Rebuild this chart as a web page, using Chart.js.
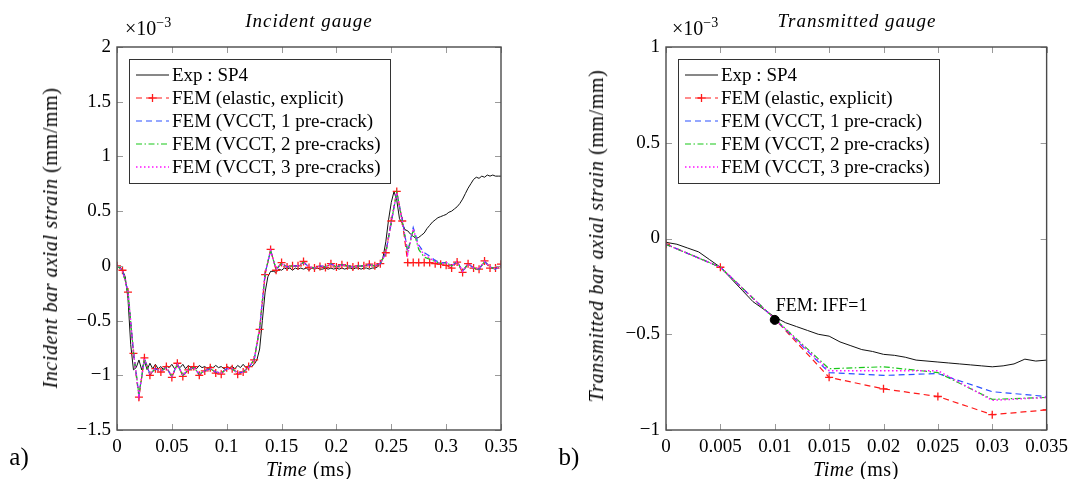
<!DOCTYPE html>
<html>
<head>
<meta charset="utf-8">
<script src="https://cdn.jsdelivr.net/npm/chart.js@4.4.1/dist/chart.umd.min.js"></script>
<style>
body { margin: 0; background: #fff; }
#wrap { position: relative; width: 1074px; height: 479px; font-family: 'Liberation Serif', serif; color: #000; }
canvas { position: absolute; top: 0; }
.lbl { position: absolute; white-space: nowrap; transform: translate(-50%, -50%); font-size: 19px; line-height: 1; }
.axl { font-size: 20px; letter-spacing: 0.6px; }
.rot { transform: translate(-50%, -50%) rotate(-90deg); }
.exp { position: absolute; white-space: nowrap; font-size: 20px; line-height: 1; }
.exp sup { font-size: 14px; vertical-align: 8px; line-height: 0; }
.ttl { letter-spacing: 1px; font-style: italic; }
</style>
</head>
<body>
<div id="wrap">
  <canvas id="incident" width="537" height="479" style="left:0"></canvas>
  <canvas id="transmitted" width="537" height="479" style="left:537px"></canvas>

  <div class="lbl ttl" style="left:309px;top:20px">Incident gauge</div>
  <div class="exp" style="left:125px;top:18px">×10<sup>−3</sup></div>
  <div class="lbl axl rot" style="left:50px;top:238px"><i>Incident bar axial strain</i> (mm/mm)</div>
  <div class="lbl axl" style="left:309px;top:469px"><i>Time</i> (ms)</div>
  <div class="lbl" style="left:19px;top:456px;font-size:25px">a)</div>

  <div class="lbl ttl" style="left:857px;top:20px">Transmitted gauge</div>
  <div class="exp" style="left:672px;top:18px">×10<sup>−3</sup></div>
  <div class="lbl axl rot" style="left:596px;top:236px"><i>Transmitted bar axial strain</i> (mm/mm)</div>
  <div class="lbl axl" style="left:856px;top:469px"><i>Time</i> (ms)</div>
  <div class="lbl" style="left:569px;top:456px;font-size:25px">b)</div>
</div>
<script>
// values are in 1e-3 mm/mm, time in ms

// --- a) incident gauge ---
var tExpInc = [0,0.0025,0.005,0.0075,0.01,0.0125,0.015,0.0175,0.02,0.0225,
  0.025,0.0275,0.03,0.0325,0.035,0.0375,0.04,0.0425,0.045,0.0475,
  0.05,0.0525,0.055,0.0575,0.06,0.0625,0.065,0.0675,0.07,0.0725,
  0.075,0.0775,0.08,0.0825,0.085,0.0875,0.09,0.0925,0.095,0.0975,
  0.1,0.1025,0.105,0.1075,0.11,0.1125,0.115,0.1175,0.12,0.1225,
  0.125,0.1275,0.13,0.1325,0.135,0.1375,0.14,0.1425,0.145,0.1475,
  0.15,0.1525,0.155,0.1575,0.16,0.1625,0.165,0.1675,0.17,0.1725,
  0.175,0.1775,0.18,0.1825,0.185,0.1875,0.19,0.1925,0.195,0.1975,
  0.2,0.2025,0.205,0.2075,0.21,0.2125,0.215,0.2175,0.22,0.2225,
  0.225,0.2275,0.23,0.2325,0.235,0.2375,0.24,0.2425,0.245,0.2475,
  0.25,0.2525,0.255,0.2575,0.26,0.2625,0.265,0.2675,0.27,0.2725,
  0.275,0.2775,0.28,0.2825,0.285,0.2875,0.29,0.2925,0.295,0.2975,
  0.3,0.3025,0.305,0.3075,0.31,0.3125,0.315,0.3175,0.32,0.3225,
  0.325,0.3275,0.33,0.3325,0.335,0.3375,0.34,0.3425,0.345,0.3475,
  0.35];
var expInc = [0,-0.01,-0.04,-0.10,-0.30,-0.72,-0.95,-0.93,-0.86,-0.95,
  -0.87,-0.95,-0.89,-0.94,-0.90,-0.94,-0.92,-0.95,-0.91,-0.93,
  -0.90,-0.94,-0.91,-0.93,-0.90,-0.94,-0.91,-0.93,-0.92,-0.94,
  -0.91,-0.93,-0.92,-0.94,-0.92,-0.93,-0.91,-0.93,-0.92,-0.94,
  -0.92,-0.93,-0.92,-0.94,-0.91,-0.93,-0.90,-0.93,-0.91,-0.92,
  -0.90,-0.86,-0.76,-0.50,-0.24,-0.10,-0.05,-0.05,-0.06,-0.03,
  -0.04,-0.02,-0.03,-0.02,-0.04,-0.02,-0.03,-0.02,-0.03,-0.02,
  -0.04,-0.02,-0.03,-0.02,-0.03,-0.03,-0.02,-0.03,-0.02,-0.03,
  -0.02,-0.03,-0.02,-0.03,-0.02,-0.02,-0.03,-0.02,-0.02,-0.03,
  -0.02,-0.02,-0.03,-0.02,-0.02,-0.01,0.02,0.08,0.22,0.42,
  0.58,0.68,0.60,0.43,0.39,0.33,0.32,0.29,0.27,0.25,
  0.26,0.28,0.30,0.34,0.37,0.40,0.42,0.44,0.45,0.46,
  0.47,0.49,0.50,0.52,0.54,0.57,0.61,0.66,0.71,0.75,
  0.79,0.81,0.80,0.82,0.81,0.83,0.82,0.83,0.82,0.82,
  0.82];

var tFemInc = [0,0.005,0.01,0.015,0.02,0.025,0.03,0.035,0.04,0.045,
  0.05,0.055,0.06,0.065,0.07,0.075,0.08,0.085,0.09,0.095,
  0.1,0.105,0.11,0.115,0.12,0.125,0.13,0.135,0.14,0.145,
  0.15,0.155,0.16,0.165,0.17,0.175,0.18,0.185,0.19,0.195,
  0.2,0.205,0.21,0.215,0.22,0.225,0.23,0.235,0.24,0.245,
  0.25,0.255,0.26,0.265,0.27,0.275,0.28,0.285,0.29,0.295,
  0.3,0.305,0.31,0.315,0.32,0.325,0.33,0.335,0.34,0.345,
  0.35];
var elasticInc = [0,-0.04,-0.24,-0.80,-1.20,-0.84,-1.00,-0.94,-0.97,-0.92,
  -1.02,-0.89,-1.01,-0.95,-0.92,-1.00,-0.96,-0.93,-0.98,-0.99,
  -0.93,-0.94,-0.99,-0.97,-0.92,-0.86,-0.58,-0.08,0.15,-0.04,
  0.03,-0.01,0.00,0.00,0.04,-0.015,-0.02,-0.005,-0.015,0.02,
  -0.01,0.01,0.00,-0.01,0.00,0.00,0.015,0.00,0.02,0.12,
  0.41,0.68,0.41,0.03,0.03,0.03,0.03,0.03,0.02,0.015,
  0.005,-0.02,0.035,-0.06,0.02,-0.02,-0.03,0.045,-0.02,-0.02,
  0.015];
var vcct1Inc = [0,-0.04,-0.23,-0.79,-1.18,-0.85,-0.99,-0.94,-0.96,-0.93,
  -1.01,-0.90,-1.00,-0.95,-0.93,-0.99,-0.96,-0.94,-0.97,-0.98,
  -0.94,-0.94,-0.98,-0.97,-0.93,-0.86,-0.57,-0.07,0.14,-0.03,
  0.02,-0.01,0.00,0.00,0.03,-0.01,-0.02,0.00,-0.01,0.02,
  -0.01,0.01,0.00,-0.01,0.00,0.00,0.01,0.00,0.02,0.12,
  0.40,0.67,0.42,0.13,0.35,0.19,0.12,0.09,0.05,0.03,
  0.03,0.00,0.04,-0.05,0.02,-0.02,-0.03,0.04,-0.01,-0.03,
  0.00];
var vcct2Inc = [0,-0.04,-0.23,-0.79,-1.18,-0.85,-0.99,-0.94,-0.96,-0.93,
  -1.01,-0.90,-1.00,-0.95,-0.93,-0.99,-0.96,-0.94,-0.97,-0.98,
  -0.94,-0.94,-0.98,-0.97,-0.93,-0.86,-0.57,-0.07,0.14,-0.03,
  0.02,-0.01,0.00,0.00,0.03,-0.01,-0.02,0.00,-0.01,0.02,
  -0.01,0.01,0.00,-0.01,0.00,0.00,0.01,0.00,0.02,0.12,
  0.40,0.67,0.41,0.12,0.33,0.15,0.08,0.06,0.04,0.02,
  0.03,0.00,0.04,-0.05,0.02,-0.02,-0.04,0.04,-0.01,-0.03,
  0.00];
var vcct3Inc = [0,-0.04,-0.23,-0.79,-1.18,-0.85,-0.99,-0.94,-0.96,-0.93,
  -1.01,-0.90,-1.00,-0.95,-0.93,-0.99,-0.96,-0.94,-0.97,-0.98,
  -0.94,-0.94,-0.98,-0.97,-0.93,-0.86,-0.57,-0.07,0.14,-0.03,
  0.02,-0.01,0.00,0.00,0.03,-0.01,-0.02,0.00,-0.01,0.02,
  -0.01,0.01,0.00,-0.01,0.00,0.00,0.01,0.00,0.02,0.12,
  0.40,0.67,0.41,0.11,0.34,0.17,0.10,0.07,0.04,0.02,
  0.03,0.00,0.04,-0.05,0.02,-0.02,-0.03,0.04,-0.01,-0.03,
  0.00];

// --- b) transmitted gauge ---
var tExpTra = [0,0.001,0.002,0.003,0.004,0.005,0.006,0.007,0.008,0.009,
  0.01,0.011,0.012,0.013,0.014,0.015,0.016,0.017,0.018,0.019,
  0.02,0.021,0.022,0.023,0.024,0.025,0.026,0.027,0.028,0.029,
  0.03,0.031,0.032,0.033,0.034,0.035];
var expTra = [-0.02,-0.03,-0.05,-0.07,-0.11,-0.15,-0.21,-0.27,-0.33,-0.37,
  -0.41,-0.44,-0.46,-0.48,-0.50,-0.51,-0.54,-0.56,-0.58,-0.59,
  -0.605,-0.61,-0.62,-0.635,-0.64,-0.645,-0.65,-0.655,-0.66,-0.665,
  -0.67,-0.665,-0.655,-0.63,-0.64,-0.635];
var tFemTra = [0,0.005,0.01,0.015,0.02,0.025,0.03,0.035];
var elasticTra = [-0.03,-0.15,-0.42,-0.725,-0.785,-0.825,-0.92,-0.895];
var vcct1Tra = [-0.03,-0.15,-0.42,-0.70,-0.715,-0.705,-0.80,-0.825];
var vcct2Tra = [-0.03,-0.15,-0.42,-0.68,-0.67,-0.70,-0.84,-0.83];
var vcct3Tra = [-0.03,-0.15,-0.42,-0.69,-0.69,-0.69,-0.845,-0.83];
var iffPoint = {x: 0.01, y: -0.425, text: 'FEM: IFF=1'};

var legendLabels = ['Exp : SP4', 'FEM (elastic, explicit)', 'FEM (VCCT, 1 pre-crack)',
  'FEM (VCCT, 2 pre-cracks)', 'FEM (VCCT, 3 pre-cracks)'];

function pts(xs, ys) {
  return xs.map(function(x, i) { return {x: x, y: ys[i]}; });
}

function buildSets(tExp, exp, tFem, elastic, v1, v2, v3) {
  return [
    {label: legendLabels[0], data: pts(tExp, exp), borderColor: '#111', borderWidth: 1, pointRadius: 0, order: 5},
    {label: legendLabels[1], data: pts(tFem, elastic), borderColor: '#ff1a1a', borderWidth: 1.2, borderDash: [6, 4],
      pointStyle: 'cross', pointRadius: 4, pointBorderWidth: 1.3, pointBorderColor: '#ff1a1a', order: 4},
    {label: legendLabels[2], data: pts(tFem, v1), borderColor: '#2b50ff', borderWidth: 1.2, borderDash: [6, 4], pointRadius: 0, order: 3},
    {label: legendLabels[3], data: pts(tFem, v2), borderColor: '#19c819', borderWidth: 1.2, borderDash: [6, 2.5, 1.5, 2.5], pointRadius: 0, order: 2},
    {label: legendLabels[4], data: pts(tFem, v3), borderColor: '#ff10ff', borderWidth: 1.5, borderDash: [1.5, 2.5], pointRadius: 0, order: 1}
  ];
}

function fmt(v) {
  return String(Math.round(v * 10000) / 10000).replace('-', '\u2212');
}

// box around the plot with inward ticks on all four sides
var frame = {
  id: 'frame',
  afterDatasetsDraw: function(chart) {
    var ctx = chart.ctx, a = chart.chartArea, x = chart.scales.x, y = chart.scales.y;
    ctx.save();
    ctx.strokeStyle = '#9a9a9a';
    ctx.lineWidth = 1;
    ctx.beginPath();
    x.ticks.forEach(function(t) {
      var px = Math.round(x.getPixelForValue(t.value)) + 0.5;
      ctx.moveTo(px, a.bottom); ctx.lineTo(px, a.bottom - 6);
      ctx.moveTo(px, a.top); ctx.lineTo(px, a.top + 6);
    });
    y.ticks.forEach(function(t) {
      var py = Math.round(y.getPixelForValue(t.value)) + 0.5;
      ctx.moveTo(a.left, py); ctx.lineTo(a.left + 6, py);
      ctx.moveTo(a.right, py); ctx.lineTo(a.right - 6, py);
    });
    ctx.stroke();
    ctx.strokeStyle = '#4a4a4a';
    ctx.lineWidth = 1.4;
    ctx.strokeRect(a.left, a.top, a.right - a.left, a.bottom - a.top);
    ctx.restore();
  }
};

var boxLegend = {
  id: 'boxLegend',
  afterDraw: function(chart) {
    var ctx = chart.ctx, a = chart.chartArea;
    var left = Math.round(a.left) + 12, top = Math.round(a.top) + 12, w = 261, h = 124;
    ctx.save();
    ctx.fillStyle = '#fff';
    ctx.fillRect(left, top, w, h);
    ctx.strokeStyle = '#333';
    ctx.lineWidth = 1;
    ctx.strokeRect(left + 0.5, top + 0.5, w, h);
    ctx.font = '19px "Liberation Serif"';
    ctx.textBaseline = 'middle';
    chart.data.datasets.forEach(function(ds, i) {
      if (!ds.label) return;
      var yy = top + 16 + 23 * i;
      ctx.save();
      ctx.strokeStyle = ds.borderColor;
      ctx.lineWidth = ds.borderWidth;
      ctx.setLineDash(ds.borderDash || []);
      ctx.beginPath();
      ctx.moveTo(left + 7, yy); ctx.lineTo(left + 40, yy);
      ctx.stroke();
      if (ds.pointStyle === 'cross') {
        ctx.setLineDash([]);
        ctx.lineWidth = ds.pointBorderWidth;
        ctx.beginPath();
        ctx.moveTo(left + 23.5 - 4, yy); ctx.lineTo(left + 23.5 + 4, yy);
        ctx.moveTo(left + 23.5, yy - 4); ctx.lineTo(left + 23.5, yy + 4);
        ctx.stroke();
      }
      ctx.restore();
      ctx.fillStyle = '#000';
      ctx.fillText(ds.label, left + 43, yy + 1);
    });
    ctx.restore();
  }
};

var iffNote = {
  id: 'iffNote',
  afterDatasetsDraw: function(chart) {
    var ctx = chart.ctx;
    var px = chart.scales.x.getPixelForValue(iffPoint.x);
    var py = chart.scales.y.getPixelForValue(iffPoint.y);
    ctx.save();
    ctx.font = '18px "Liberation Serif"';
    ctx.fillStyle = '#000';
    ctx.textBaseline = 'alphabetic';
    ctx.fillText(iffPoint.text, px + 1, py - 9);
    ctx.restore();
  }
};

function makeChart(id, leftW, padRight, xr, yr, sets, extra) {
  var tickFont = {family: 'Liberation Serif', size: 19};
  return new Chart(document.getElementById(id), {
    type: 'line',
    data: {datasets: sets},
    options: {
      responsive: false,
      animation: false,
      devicePixelRatio: 1,
      layout: {padding: {left: 0, top: 47, right: padRight, bottom: 0}},
      plugins: {legend: {display: false}, tooltip: {enabled: false}},
      elements: {line: {tension: 0, fill: false}},
      scales: {
        x: {
          type: 'linear', min: xr[0], max: xr[1],
          grid: {display: false, drawTicks: false}, border: {display: false},
          ticks: {stepSize: xr[2], autoSkip: false, maxRotation: 0, padding: 6, color: '#000', font: tickFont, callback: fmt},
          afterFit: function(s) { s.height = 49; }
        },
        y: {
          type: 'linear', min: yr[0], max: yr[1],
          grid: {display: false, drawTicks: false}, border: {display: false},
          ticks: {stepSize: yr[2], autoSkip: false, padding: 6, color: '#000', font: tickFont, callback: fmt},
          afterFit: function(s) { s.width = leftW; }
        }
      }
    },
    plugins: [frame, boxLegend].concat(extra || [])
  });
}

makeChart('incident', 117, 36, [0, 0.35, 0.05], [-1.5, 2, 0.5],
  buildSets(tExpInc, expInc, tFemInc, elasticInc, vcct1Inc, vcct2Inc, vcct3Inc));

var traSets = buildSets(tExpTra, expTra, tFemTra, elasticTra, vcct1Tra, vcct2Tra, vcct3Tra);
traSets.push({data: [{x: iffPoint.x, y: iffPoint.y}], showLine: false, pointRadius: 4.5,
  pointBackgroundColor: '#000', pointBorderColor: '#000', order: 0});
makeChart('transmitted', 129, 26, [0, 0.035, 0.005], [-1, 1, 0.5], traSets, [iffNote]);
</script>
</body>
</html>
